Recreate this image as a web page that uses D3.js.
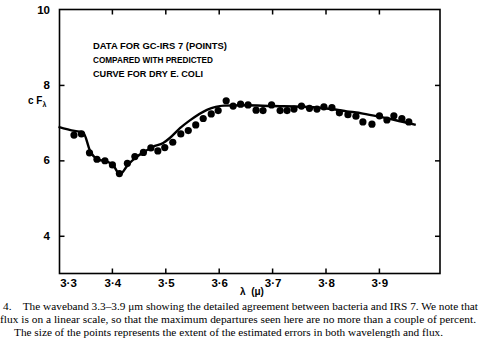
<!DOCTYPE html>
<html><head><meta charset="utf-8">
<script src="https://cdn.jsdelivr.net/npm/d3@7"></script>
<style>body{margin:0;background:#fff}svg{display:block}</style>
</head><body>
<script>
// Observed data (GC-IRS 7 points)
const pointWavelength = [3.329,3.343,3.358,3.372,3.387,3.401,3.414,3.429,3.443,3.459,3.473,3.486,3.499,3.514,3.529,3.543,3.557,3.571,3.586,3.599,3.614,3.627,3.641,3.655,3.670,3.683,3.699,3.715,3.728,3.741,3.755,3.770,3.784,3.797,3.812,3.826,3.842,3.857,3.870,3.887,3.901,3.915,3.928,3.943,3.956];
const pointFlux = [6.67,6.70,6.20,6.03,5.99,5.88,5.65,5.92,6.10,6.21,6.33,6.25,6.34,6.48,6.70,6.79,6.94,7.11,7.23,7.32,7.58,7.44,7.49,7.47,7.33,7.32,7.47,7.32,7.32,7.36,7.44,7.38,7.36,7.42,7.40,7.26,7.21,7.17,7.02,6.96,7.18,7.07,7.18,7.11,7.02];
// Predicted curve for dry E. coli
const curveWavelength = [3.300,3.330,3.346,3.360,3.375,3.390,3.402,3.415,3.430,3.445,3.460,3.477,3.496,3.509,3.528,3.546,3.578,3.610,3.650,3.700,3.760,3.810,3.840,3.870,3.900,3.930,3.969];
const curveFlux = [6.89,6.78,6.74,6.22,6.02,5.97,5.88,5.63,5.88,6.08,6.22,6.36,6.46,6.60,6.86,7.06,7.34,7.45,7.46,7.44,7.42,7.36,7.30,7.24,7.16,7.07,6.94];
const xTicks = [3.3,3.4,3.5,3.6,3.7,3.8,3.9];
const xTickLabels = ["3·3","3·4","3·5","3·6","3·7","3·8","3·9"];
const yTicks = [4,6,8,10];
const titleLines = ["DATA FOR GC-IRS 7 (POINTS)","COMPARED WITH PREDICTED","CURVE FOR DRY E. COLI"];
const captionLines = [
 "4.\u2003The waveband 3.3\u20133.9 \u03bcm showing the detailed agreement between bacteria and IRS 7. We note that",
 "flux is on a linear scale, so that the maximum departures seen here are no more than a couple of percent.",
 "The size of the points represents the extent of the estimated errors in both wavelength and flux."
];

const W=480,H=342;
const svg=d3.select("body").append("svg").attr("width",W).attr("height",H);
const x=d3.scaleLinear().domain([3.3,4.0144]).range([58.5,440]);
const y=d3.scaleLinear().domain([3,10]).range([273.5,9.5]);
const L=59.5,R=440,T=9.5,B=273.5;

// frame
svg.append("rect").attr("x",L).attr("y",T).attr("width",R-L).attr("height",B-T)
  .attr("fill","none").attr("stroke","#000").attr("stroke-width",1.6);

const sans="'Liberation Sans', Arial, sans-serif";
function styleAxis(g){g.select(".domain").remove();g.selectAll("line").attr("stroke","#000").attr("stroke-width",1.5);}
svg.append("g").attr("transform",`translate(0,${B})`)
  .call(d3.axisBottom(x).tickValues(xTicks.slice(1)).tickSize(-5).tickFormat("")).call(styleAxis);
svg.append("g").attr("transform",`translate(0,${T})`)
  .call(d3.axisTop(x).tickValues(xTicks.slice(1)).tickSize(-5).tickFormat("")).call(styleAxis);
svg.append("g").attr("transform",`translate(${L},0)`)
  .call(d3.axisLeft(y).tickValues(yTicks.slice(0,3)).tickSize(-5).tickFormat("")).call(styleAxis);
svg.append("g").attr("transform",`translate(${R},0)`)
  .call(d3.axisRight(y).tickValues(yTicks.slice(0,3)).tickSize(-5).tickFormat("")).call(styleAxis);

// x tick labels
svg.append("g").selectAll("text").data(xTicks).join("text")
  .attr("x",(d,i)=>i===0?x(d)+10:x(d)+1).attr("y",B+13)
  .attr("text-anchor","middle").attr("font-family",sans).attr("font-weight","bold")
  .attr("font-size",11.5).text((d,i)=>xTickLabels[i]);
// y tick labels
svg.append("g").selectAll("text").data(yTicks).join("text")
  .attr("x",50).attr("y",d=>y(d)+4).attr("text-anchor","end")
  .attr("font-family",sans).attr("font-weight","bold").attr("font-size",11.5).text(d=>d);

// axis titles
const yl=svg.append("text").attr("x",28).attr("y",104).attr("font-family",sans)
  .attr("font-weight","bold").attr("font-size",10);
yl.append("tspan").text("c F");
yl.append("tspan").attr("font-size",7).attr("dy",3).text("\u03bb");
svg.append("text").attr("x",252).attr("y",295).attr("text-anchor","middle")
  .attr("font-family",sans).attr("font-weight","bold").attr("font-size",10)
  .attr("xml:space","preserve").text("\u03bb  (\u03bc)");

// title block
const titleW=[134,120,110];
svg.append("g").selectAll("text").data(titleLines).join("text")
  .attr("x",93).attr("y",(d,i)=>48.5+i*14).attr("font-family",sans).attr("font-weight","bold")
  .attr("font-size",9).attr("textLength",(d,i)=>titleW[i]).attr("lengthAdjust","spacingAndGlyphs")
  .text(d=>d);

// curve
const line=d3.line().x(d=>x(d[0])).y(d=>y(d[1])).curve(d3.curveMonotoneX);
svg.append("path").datum(curveWavelength.map((w,i)=>[w,curveFlux[i]]))
  .attr("d",line).attr("fill","none").attr("stroke","#000").attr("stroke-width",2.4)
  .attr("stroke-linejoin","round");
// points
svg.append("g").selectAll("circle").data(pointWavelength.map((w,i)=>[w,pointFlux[i]])).join("circle")
  .attr("cx",d=>x(d[0])).attr("cy",d=>y(d[1])).attr("r",3.6).attr("fill","#000");

// caption
const capX=[3,0,14], capW=[475,476,429];
svg.append("g").selectAll("text").data(captionLines).join("text")
  .attr("x",(d,i)=>capX[i]).attr("y",(d,i)=>310+i*13)
  .attr("font-family","'Liberation Serif', 'Times New Roman', serif").attr("font-size",11)
  .attr("textLength",(d,i)=>capW[i]).attr("lengthAdjust","spacingAndGlyphs")
  .text(d=>d);
</script>
</body></html>
